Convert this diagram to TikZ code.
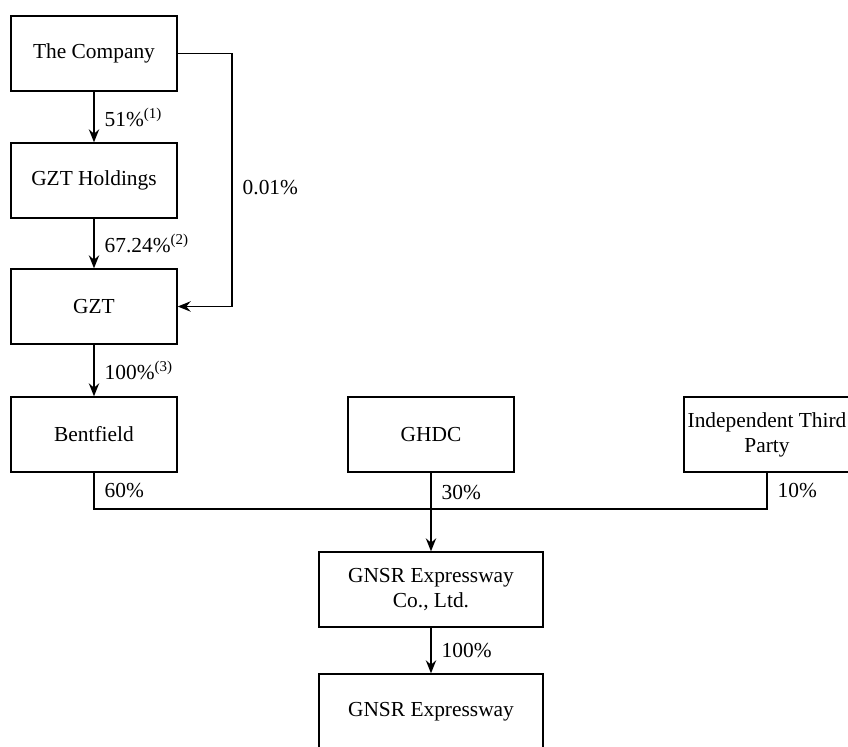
\documentclass[tikz,border=0pt]{standalone}
\usepackage{fontspec}
\setmainfont{Liberation Serif}
\usetikzlibrary{arrows.meta}

\begin{document}
\begin{tikzpicture}[x=0.5pt, y=-0.5pt, font=\fontsize{10.7}{12.5}\selectfont,
	box/.style={draw, line width=0.7pt, minimum width=83pt, minimum height=37.5pt, align=center, inner sep=1pt},
	widebox/.style={box, minimum width=112pt},
	link/.style={line width=0.7pt},
	arr/.style={link, -{Stealth[length=6.5pt, width=5.2pt, inset=2.2pt]}},
	pct/.style={anchor=west, inner sep=2pt, xshift=3pt}]
	\useasboundingbox (0,0) rectangle (848,747);
	
	% Draw the holding chain
	\node[box] (comp) at (94,53.5) {The Company};
	\node[box] (hold) at (94,180.5) {GZT Holdings};
	\node[box] (gzt) at (94,306.5) {GZT};
	\node[box] (bent) at (94,434.5) {Bentfield};
	\node[box] (ghdc) at (431,434.5) {GHDC};
	\node[box] (third) at (767,434.5) {Independent Third\\Party};
	\node[widebox] (jv) at (431,589.5) {GNSR Expressway\\Co., Ltd.};
	\node[widebox] (gnsr) at (431,711.5) {GNSR Expressway};
	
	\coordinate (side) at (232,0);
	\coordinate (bus) at (431,509);
	
	% Draw the arrows
	\draw[arr] (comp) -- node[pct]{51\%\textsuperscript{(1)}} (hold);
	\draw[arr] (hold) -- node[pct]{67.24\%\textsuperscript{(2)}} (gzt);
	\draw[arr] (gzt) -- node[pct]{100\%\textsuperscript{(3)}} (bent);
	\draw[arr] (comp.east) -| node[pct, pos=0.75, yshift=-4pt]{0.01\%} (side |- gzt.east) -- (gzt.east);
	
	% Draw the joint venture lines
	\draw[link] (bent.south) |- node[pct, pos=0.25]{60\%} (bus) -| node[pct, pos=0.75]{10\%} (third.south);
	\draw[arr] (ghdc.south) -- node[pct, pos=0.25]{30\%} (jv.north);
	\draw[arr] (jv) -- node[pct]{100\%} (gnsr);
\end{tikzpicture}
\end{document}
